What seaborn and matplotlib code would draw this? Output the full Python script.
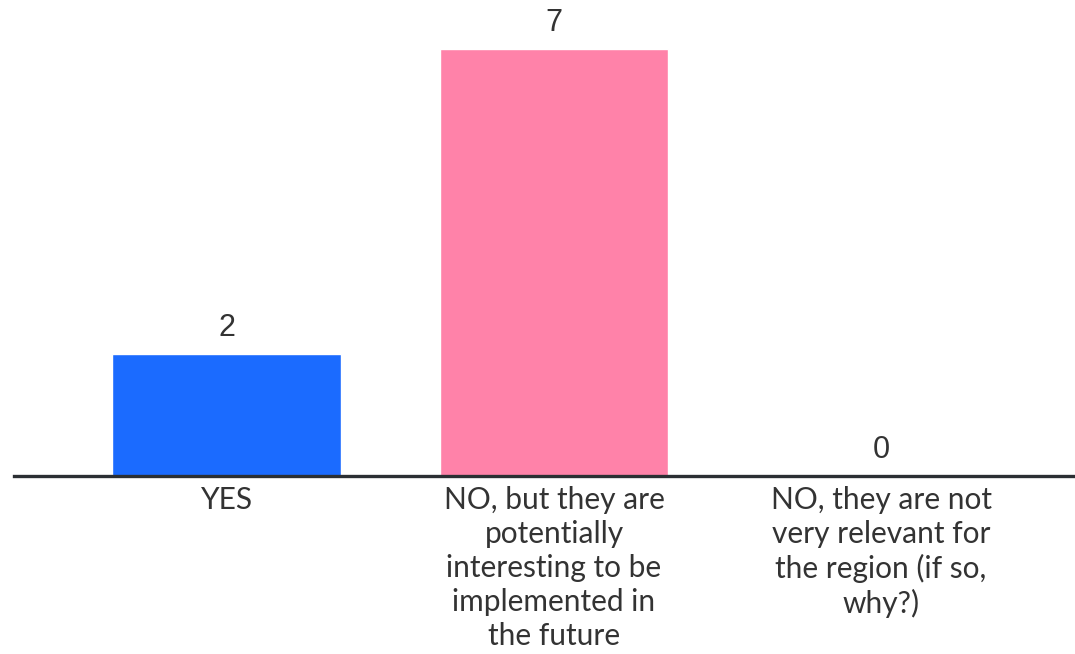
import matplotlib
matplotlib.use("Agg")
import matplotlib.pyplot as plt
import seaborn as sns
import pandas as pd

categories = ["YES",
              "NO, but they are\npotentially\ninteresting to be\nimplemented in\nthe future",
              "NO, they are not\nvery relevant for\nthe region (if so,\nwhy?)"]
values = [2, 7, 0]
colors = ["#1b6bff", "#ff82a9", "#888888"]

sns.set_theme(style="white")
plt.rcParams['font.family'] = ['Lato', 'DejaVu Sans']

df = pd.DataFrame({"cat": categories, "val": values})

fig = plt.figure(figsize=(10.75, 6.54), dpi=100)
ax = fig.add_axes([14/1075, (654-476)/654, (1075-14)/1075, 476/654])

sns.barplot(data=df, x="cat", y="val", hue="cat", palette=colors,
            width=0.70, legend=False, ax=ax, saturation=1)

for c in ax.containers:
    ax.bar_label(c, padding=8, fontsize=22, color="#333333", family="Liberation Sans")

ax.set_xlim(-0.651, 2.593)
ax.set_ylim(0, 7.8)
ax.set_xlabel("")
ax.set_ylabel("")
ax.set_yticks([])
for s in ["top", "right", "left"]:
    ax.spines[s].set_visible(False)
ax.spines["bottom"].set_color("#2b2f33")
ax.spines["bottom"].set_linewidth(2.4)
ax.tick_params(axis="x", length=0, pad=7)
for lab in ax.get_xticklabels():
    lab.set_fontsize(21.5)
    lab.set_color("#333333")
    lab.set_linespacing(1.26)
    lab.set_verticalalignment("top")

fig.savefig("out.png", dpi=100)
